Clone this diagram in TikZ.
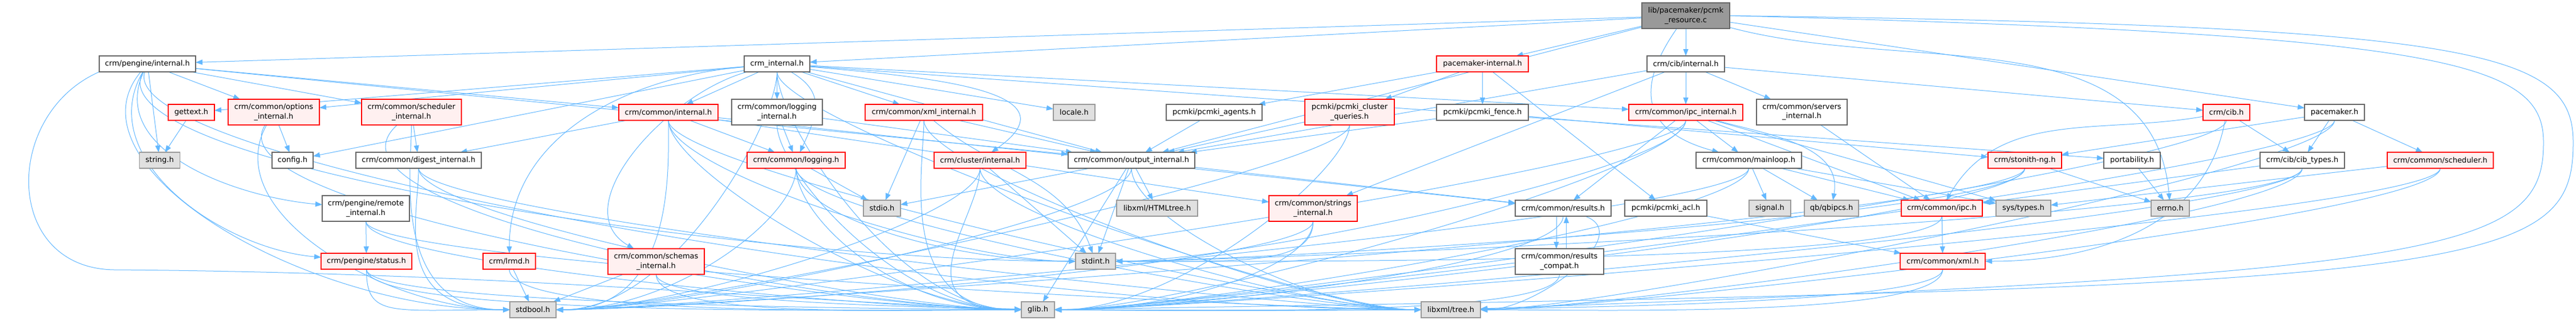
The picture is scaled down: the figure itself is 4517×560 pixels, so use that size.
\documentclass[tikz,border=0pt]{standalone}
\usepackage{fontspec}
\setmainfont{DejaVu Sans}
\usepackage{tikz}
\usetikzlibrary{arrows.meta}
\usetikzlibrary{backgrounds}
\usetikzlibrary{calc}

\definecolor{edgeblue}{HTML}{63B8FF}
\definecolor{nodered}{HTML}{FF0000}
\definecolor{nodepink}{HTML}{FFF0F0}
\definecolor{nodegray}{HTML}{999999}
\definecolor{sysgray}{HTML}{E0E0E0}
\definecolor{nodedark}{HTML}{666666}
\definecolor{rootgray}{HTML}{999999}

\begin{document}
\begin{tikzpicture}[
        x = 1pt, y = -1pt,
        filebox/.style = {
            draw,
            rectangle,
            line width = 1.2pt,
            minimum width = #1,
            minimum height = 28pt,
            inner sep = 0pt,
            outer sep = 0pt,
            align = center,
            font = \fontsize{13pt}{16.5pt}\selectfont
        },
        filebox/.default = 80pt,
        redbox/.style = {filebox = #1, draw = nodered, fill = nodepink},
        graybox/.style = {filebox = #1, draw = nodegray, fill = sysgray},
        whitebox/.style = {filebox = #1, draw = nodedark, fill = white},
        rootbox/.style = {filebox = #1, draw = nodedark, fill = rootgray, minimum height = 45pt},
        tall/.style = {minimum height = 45pt},
        dep/.style = {draw = edgeblue, line width = 1pt, -{Triangle[length = 12pt, width = 9pt]}},
        sweep/.style 2 args = {to path = {.. controls ($(\tikztostart) + (#1, 180)$) and ($(\tikztotarget) + (#2, 0)$) .. (\tikztotarget) \tikztonodes}},
        tol/.style = {to path = {.. controls ($(\tikztostart) + (0, 100)$) and ($(\tikztotarget) + (250, 0)$) .. (\tikztotarget) \tikztonodes}},
        tor/.style = {to path = {.. controls ($(\tikztostart) + (0, 100)$) and ($(\tikztotarget) + (-250, 0)$) .. (\tikztotarget) \tikztonodes}}
    ]
    \useasboundingbox (0, 0) rectangle (4517, 560);
    {\node[rootbox = 154pt] (res) at (2956, 27.5) {lib/pacemaker/pcmk\\\_resource.c};}
    {\node[whitebox = 169pt] (peint) at (258.5, 112) {crm/pengine/internal.h};}
    {\node[whitebox = 115pt] (crmint) at (1362.5, 112) {crm\_internal.h};}
    {\node[redbox = 161pt] (pmkint) at (2599.5, 112) {pacemaker-internal.h};}
    {\node[whitebox = 136pt] (cibint) at (2956, 112) {crm/cib/internal.h};}
    {\node[redbox = 81pt] (gettext) at (335.5, 197) {gettext.h};}
    {\node[redbox = 160pt, tall] (optint) at (480, 196.5) {crm/common/options\\\_internal.h};}
    {\node[redbox = 175pt, tall] (schint) at (721.5, 196.5) {crm/common/scheduler\\\_internal.h};}
    {\node[redbox = 174pt] (cmnint) at (1172, 197) {crm/common/internal.h};}
    {\node[whitebox = 159pt, tall] (logint) at (1362.5, 196.5) {crm/common/logging\\\_internal.h};}
    {\node[redbox = 206pt] (xmlint) at (1620, 197) {crm/common/xml\_internal.h};}
    {\node[graybox = 73pt] (locale) at (1883.5, 197) {locale.h};}
    {\node[whitebox = 168pt] (agents) at (2129, 197) {pcmki/pcmki\_agents.h};}
    {\node[redbox = 157pt, tall] (queries) at (2366.5, 196.5) {pcmki/pcmki\_cluster\\\_queries.h};}
    {\node[whitebox = 161pt] (fence) at (2599.5, 197) {pcmki/pcmki\_fence.h};}
    {\node[redbox = 200pt] (ipcint) at (2956, 197) {crm/common/ipc\_internal.h};}
    {\node[whitebox = 159pt, tall] (srvint) at (3159.5, 196.5) {crm/common/servers\\\_internal.h};}
    {\node[redbox = 82pt] (cib) at (3904, 197) {crm/cib.h};}
    {\node[whitebox = 105pt] (pmk) at (4093.5, 197) {pacemaker.h};}
    {\node[graybox = 71pt] (string) at (280, 281) {string.h};}
    {\node[whitebox = 72pt] (config) at (513, 281) {config.h};}
    {\node[whitebox = 220pt] (digest) at (734, 281) {crm/common/digest\_internal.h};}
    {\node[redbox = 172pt] (logging) at (1396, 281) {crm/common/logging.h};}
    {\node[redbox = 161pt] (clsint) at (1718.5, 281) {crm/cluster/internal.h};}
    {\node[whitebox = 222pt] (outint) at (1984, 281) {crm/common/output\_internal.h};}
    {\node[whitebox = 185pt] (mainloop) at (3066.5, 281) {crm/common/mainloop.h};}
    {\node[redbox = 129pt] (stonith) at (3550.5, 281) {crm/stonith-ng.h};}
    {\node[whitebox = 99pt] (port) at (3738.5, 281) {portability.h};}
    {\node[whitebox = 148pt] (cibtypes) at (4037, 281) {crm/cib/cib\_types.h};}
    {\node[redbox = 186pt] (sched) at (4279, 281) {crm/common/scheduler.h};}
    {\node[whitebox = 153pt, tall] (remote) at (641.5, 365.5) {crm/pengine/remote\\\_internal.h};}
    {\node[graybox = 65pt] (stdio) at (1546.5, 365) {stdio.h};}
    {\node[graybox = 142pt] (html) at (2029, 365) {libxml/HTMLtree.h};}
    {\node[redbox = 155pt, tall] (strint) at (2302.5, 365.5) {crm/common/strings\\\_internal.h};}
    {\node[whitebox = 168pt] (results) at (2741, 365) {crm/common/results.h};}
    {\node[whitebox = 144pt] (acl) at (2921, 365) {pcmki/pcmki\_acl.h};}
    {\node[graybox = 73pt] (signal) at (3103.5, 365) {signal.h};}
    {\node[graybox = 95pt] (qbipcs) at (3211.5, 365) {qb/qbipcs.h};}
    {\node[redbox = 142pt] (ipc) at (3405, 365) {crm/common/ipc.h};}
    {\node[graybox = 96pt] (types) at (3548, 365) {sys/types.h};}
    {\node[graybox = 67pt] (errno) at (3805.5, 365) {errno.h};}
    {\node[redbox = 159pt] (status) at (642.5, 458) {crm/pengine/status.h};}
    {\node[redbox = 92pt] (lrmd) at (893, 458) {crm/lrmd.h};}
    {\node[redbox = 169pt, tall] (schemas) at (1150.5, 458.5) {crm/common/schemas\\\_internal.h};}
    {\node[graybox = 70pt] (stdint) at (1921, 458) {stdint.h};}
    {\node[whitebox = 155pt, tall] (compat) at (2734.5, 458.5) {crm/common/results\\\_compat.h};}
    {\node[redbox = 149pt] (xml) at (3406.5, 458) {crm/common/xml.h};}
    {\node[graybox = 81pt] (stdbool) at (934.5, 543) {stdbool.h};}
    {\node[graybox = 58pt] (glib) at (1820, 543) {glib.h};}
    {\node[graybox = 104pt] (tree) at (2544, 543) {libxml/tree.h};}
    \begin{scope}[on background layer]
    \fill[white] (0, 0) rectangle (4517, 560);
    \draw[dep] (res) -- (peint);
    \draw[dep] (res) -- (crmint);
    \draw[dep] (res) -- (pmkint);
    \draw[dep] (res) -- (cibint);
    \draw[dep] (res) -- (outint);
    \draw[dep] (res) -- (pmk);
    \draw[dep] (res) to[out = -125, in = 165, looseness = 1.5] (mainloop);
    \draw[dep] (res) to[out = -15, in = 95] (errno);
    \draw[dep] (res.east) .. controls (4350, 45) and (4512, 90) .. (4512, 250) .. controls (4512, 480) and (4350, 505) .. (glib);
    \draw[dep] (res.east) .. controls (4300, 60) and (4460, 110) .. (4460, 250) .. controls (4460, 440) and (4300, 480) .. (tree);
    \draw[dep] (crmint) -- (cmnint);
    \draw[dep] (crmint) -- (logint);
    \draw[dep] (crmint) to[out = -30, in = 65, looseness = 1.3] (logging);
    \draw[dep] (crmint) -- (xmlint);
    \draw[dep] (crmint) -- (locale);
    \draw[dep] (crmint) -- (optint);
    \draw[dep] (crmint) -- (config);
    \draw[dep] (crmint) -- (gettext);
    \draw[dep] (crmint) to[out = 185, in = 90] (lrmd);
    \draw[dep] (crmint) -- (ipcint);
    \draw[dep] (crmint) -- (port);
    \draw[dep] (crmint) -- (outint);
    \draw[dep] (crmint) to[out = 195, in = 150] (schemas);
    \draw[dep] (crmint) to[out = -5, in = 35, looseness = 1.4] (clsint);
    \draw[dep] (crmint) to[tor] (glib);
    \draw[dep] (crmint) to[tol] (stdbool);
    \draw[dep] (crmint) to[tor] (tree);
    \draw[dep] (peint) -- (string);
    \draw[dep] (peint) -- (optint);
    \draw[dep] (peint) -- (schint);
    \draw[dep] (peint) -- (cmnint);
    \draw[dep] (peint) -- (outint);
    \draw[dep] (peint) to[out = -115, in = 175] (remote);
    \draw[dep] (peint) to[out = -120, in = 175] (status);
    \draw[dep] (peint) to[sweep = {-150}{-400}] (stdbool);
    \draw[dep] (peint) to[sweep = {-100}{-600}] (stdint);
    \draw[dep] (peint) to[sweep = {-60}{-800}] (tree);
    \draw[dep] (peint.south west) .. controls (5, 200) and (5, 470) .. (200, 473) .. controls (900, 478) and (1400, 530) .. (glib);
    \draw[dep] (gettext) -- (string);
    \draw[dep] (optint) -- (config);
    \draw[dep] (optint) to[sweep = {-120}{-300}] (glib);
    \draw[dep] (optint) to[sweep = {-100}{-250}] (stdbool);
    \draw[dep] (schint) -- (digest);
    \draw[dep] (schint) to[sweep = {-200}{-300}] (glib);
    \draw[dep] (schint) to[tor] (stdbool);
    \draw[dep] (cmnint) -- (digest);
    \draw[dep] (cmnint) -- (logging);
    \draw[dep] (cmnint) -- (strint);
    \draw[dep] (cmnint) -- (results);
    \draw[dep] (cmnint) to[tor] (glib);
    \draw[dep] (cmnint) to[tol] (stdbool);
    \draw[dep] (cmnint) to[tor] (tree);
    \draw[dep] (cmnint) to[tor] (stdint);
    \draw[dep] (logint) -- (logging);
    \draw[dep] (logint) -- (outint);
    \draw[dep] (logint) to[tor] (glib);
    \draw[dep] (xmlint) -- (stdio);
    \draw[dep] (xmlint) -- (outint);
    \draw[dep] (xmlint) to[out = -40, in = 110] (stdint);
    \draw[dep] (xmlint) to[tor] (glib);
    \draw[dep] (xmlint) to[tor] (tree);
    \draw[dep] (digest) to[tor] (stdbool);
    \draw[dep] (digest) to[tor] (tree);
    \draw[dep] (digest) to[tor] (glib);
    \draw[dep] (logging) -- (stdio);
    \draw[dep] (logging) to[tor] (glib);
    \draw[dep] (logging) to[tor] (stdint);
    \draw[dep] (logging) to[tor] (tree);
    \draw[dep] (logging) to[tol] (stdbool);
    \draw[dep] (clsint) -- (stdint);
    \draw[dep] (clsint) to[tor] (glib);
    \draw[dep] (clsint) to[tor] (tree);
    \draw[dep] (clsint) to[tol] (stdbool);
    \draw[dep] (outint) -- (stdio);
    \draw[dep] (outint) -- (stdint);
    \draw[dep] (outint) -- (glib);
    \draw[dep] (outint) -- (html);
    \draw[dep] (outint) -- (results);
    \draw[dep] (outint) to[tor] (tree);
    \draw[dep] (outint) to[tol] (stdbool);
    \draw[dep] (agents) -- (outint);
    \draw[dep] (queries) -- (outint);
    \draw[dep] (queries) to[tol] (glib);
    \draw[dep] (queries) to[tol] (stdbool);
    \draw[dep] (pmkint) -- (fence);
    \draw[dep] (pmkint) -- (agents);
    \draw[dep] (pmkint) -- (queries);
    \draw[dep] (pmkint) -- (acl);
    \draw[dep] (fence) -- (outint);
    \draw[dep] (fence) -- (stonith);
    \draw[dep] (acl) -- (xml);
    \draw[dep] (cibint) -- (ipcint);
    \draw[dep] (cibint) -- (srvint);
    \draw[dep] (cibint) -- (cib);
    \draw[dep] (cibint) -- (outint);
    \draw[dep] (cibint) -- (strint);
    \draw[dep] (ipcint) -- (mainloop);
    \draw[dep] (ipcint) -- (ipc);
    \draw[dep] (ipcint) to[out = -15, in = 80] (qbipcs);
    \draw[dep] (ipcint) -- (types);
    \draw[dep] (ipcint) -- (results);
    \draw[dep] (ipcint) to[tol] (stdint);
    \draw[dep] (ipcint) to[tol] (glib);
    \draw[dep] (ipcint) to[tol] (stdbool);
    \draw[dep] (mainloop) -- (signal);
    \draw[dep] (mainloop) -- (qbipcs);
    \draw[dep] (mainloop) -- (ipc);
    \draw[dep] (mainloop) -- (types);
    \draw[dep] (mainloop) to[tol] (glib);
    \draw[dep] (mainloop) to[tol] (stdbool);
    \draw[dep] (srvint) -- (ipc);
    \draw[dep] ([xshift = -12pt]results.south) -- ([xshift = -5.5pt]compat.north);
    \draw[dep] ([xshift = 12pt]compat.north) -- ([xshift = 5.5pt]results.south);
    \draw[dep] (results) to[out = -20, in = 0] (tree);
    \draw[dep] (results) to[tol] (glib);
    \draw[dep] (compat) to[tol] (glib);
    \draw[dep] (strint) to[tol] (glib);
    \draw[dep] (strint) to[tol] (stdbool);
    \draw[dep] (strint) to[tol] (stdint);
    \draw[dep] (remote) -- (status);
    \draw[dep] (remote) to[tor] (glib);
    \draw[dep] (remote) to[tor] (tree);
    \draw[dep] (status) to[tor] (glib);
    \draw[dep] (status) to[tor] (tree);
    \draw[dep] (status) to[tor] (stdbool);
    \draw[dep] (lrmd) -- (stdbool);
    \draw[dep] (lrmd) to[tor] (glib);
    \draw[dep] (schemas) -- (stdbool);
    \draw[dep] (schemas) to[tor] (glib);
    \draw[dep] (schemas) to[tor] (tree);
    \draw[dep] (ipc) -- (xml);
    \draw[dep] (ipc) to[tol] (stdint);
    \draw[dep] (xml) to[tol] (glib);
    \draw[dep] (xml) to[tol] (tree);
    \draw[dep] (stonith) -- (errno);
    \draw[dep] (stonith) to[tol] (stdbool);
    \draw[dep] (stonith) to[tol] (stdint);
    \draw[dep] (stonith) to[tol] (glib);
    \draw[dep] (cib) -- (cibtypes);
    \draw[dep] (cib) to[out = 190, in = 60] (ipc);
    \draw[dep] (cib) to[out = -100, in = 0] (xml);
    \draw[dep] (cib) to[tol] (glib);
    \draw[dep] (cibtypes) -- (ipc);
    \draw[dep] (cibtypes) to[tol] (glib);
    \draw[dep] (cibtypes) to[tol] (tree);
    \draw[dep] (cibtypes) to[tol] (stdint);
    \draw[dep] (sched) -- (types);
    \draw[dep] (sched) to[tol] (glib);
    \draw[dep] (sched) to[tol] (tree);
    \draw[dep] (pmk) -- (sched);
    \draw[dep] (pmk) -- (cibtypes);
    \draw[dep] (pmk) -- (stonith);
    \draw[dep] (pmk) to[tol] (glib);
    \draw[dep] (pmk) to[tol] (tree);
    \draw[dep] (port) -- (errno);
    \end{scope}
\end{tikzpicture}
\end{document}
